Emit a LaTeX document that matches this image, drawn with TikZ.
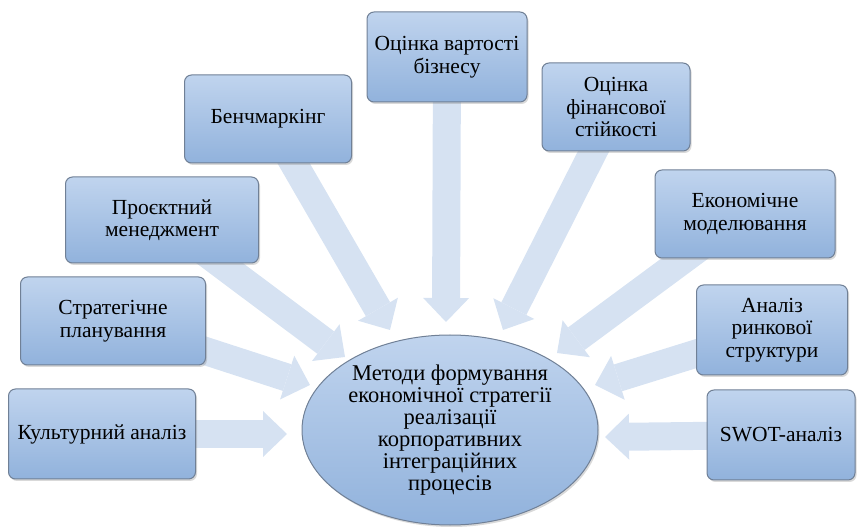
\documentclass[tikz,border=0pt]{standalone}
\usepackage{fontspec}
\setmainfont{Liberation Serif}
\usetikzlibrary{arrows.meta,positioning,calc,shapes.geometric,shadows,backgrounds}

\definecolor{boxtop}{RGB}{192,212,238}
\definecolor{boxbot}{RGB}{145,178,220}
\definecolor{boxline}{RGB}{112,128,150}
\definecolor{flowcol}{RGB}{214,226,242}

\tikzset{
  method/.style={draw=boxline,line width=1pt,rounded corners=7pt,top color=boxtop,bottom color=boxbot,
    align=center,inner sep=0pt,font=\fontsize{21.5}{22.5}\selectfont,
    drop shadow={shadow xshift=1.5pt,shadow yshift=-2pt,opacity=.3}},
  flow/.style={draw=flowcol,line width=28pt,-{Triangle[length=24pt,width=46pt,line width=0pt]}}
}

\begin{document}
\begin{tikzpicture}[x=1pt,y=-1pt]
\useasboundingbox (0,0) rectangle (863,529);

% methods
\node[method,minimum width=187pt,minimum height=90pt] (cult) at (102,434) {Культурний аналіз};
\node[method,minimum width=185pt,minimum height=88pt] (strat) at (113,321) {Стратегічне\\планування};
\node[method,minimum width=193pt,minimum height=86pt] (proj) at (162,220) {Проєктний\\менеджмент};
\node[method,minimum width=167pt,minimum height=88pt] (bench) at (268,119) {Бенчмаркінг};
\node[method,minimum width=160pt,minimum height=90pt] (value) at (447,57) {Оцінка вартості\\бізнесу};
\node[method,minimum width=148pt,minimum height=88pt] (fin) at (616,107) {Оцінка\\фінансової\\стійкості};
\node[method,minimum width=180pt,minimum height=88pt] (model) at (745,214) {Економічне\\моделювання};
\node[method,minimum width=151pt,minimum height=90pt] (market) at (772,330) {Аналіз\\ринкової\\структури};
\node[method,minimum width=148pt,minimum height=90pt] (swot) at (781,435) {SWOT-аналіз};

% goal
\node[ellipse,draw=boxline,line width=1pt,top color=boxtop,bottom color=boxbot,
  minimum width=296pt,minimum height=190pt,inner sep=0pt,align=center,
  font=\fontsize{22.5}{22}\selectfont,
  drop shadow={shadow xshift=1.5pt,shadow yshift=-2pt,opacity=.3}] (centre) at (450,430)
  {Методи формування\\економічної стратегії\\реалізації\\корпоративних\\інтеграційних\\процесів};

\begin{scope}[on background layer]
\draw[flow] (cult.center) -- ($(centre)+(-163,4)$);
\draw[flow] (strat.center) -- ($(centre)+(-140,-45)$);
\draw[flow] (proj.center) -- ($(centre)+(-105,-73)$);
\draw[flow] (bench.center) -- ($(centre)+(-60,-100)$);
\draw[flow] (value.center) -- ($(centre)+(-4,-108)$);
\draw[flow] (fin.center) -- ($(centre)+(53,-100)$);
\draw[flow] (model.center) -- ($(centre)+(107,-77)$);
\draw[flow] (market.center) -- ($(centre)+(145,-45)$);
\draw[flow] (swot.center) -- ($(centre)+(155,7)$);
\end{scope}
\end{tikzpicture}
\end{document}
